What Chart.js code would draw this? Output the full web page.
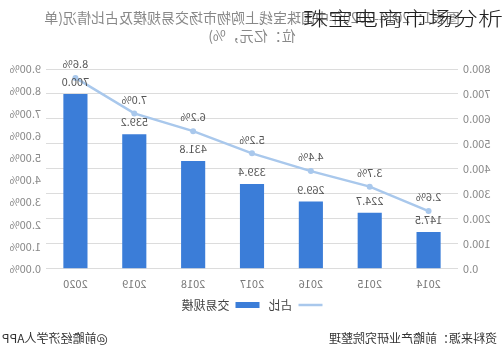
<!DOCTYPE html>
<html>
<head>
<meta charset="utf-8">
<script src="https://cdn.jsdelivr.net/npm/chart.js@4"></script>
<style>
 html,body{margin:0;padding:0;background:#fff;}
 body{width:504px;height:362px;overflow:hidden;position:relative;font-family:"Noto Sans CJK SC",sans-serif;}
 #mirror{position:absolute;left:0;top:0;width:504px;height:362px;transform:scaleX(-1);}
 #title{position:absolute;left:0;top:8px;width:504px;text-align:center;font-size:14px;line-height:18px;color:#888;}
 #chart{position:absolute;left:0;top:0;}
 #source{position:absolute;left:7px;top:329px;font-size:12px;color:#333;}
 #brand{position:absolute;right:2px;top:329px;font-size:12px;color:#333;}
 #overlay{position:absolute;right:1px;top:8px;font-size:25px;line-height:25px;font-weight:300;color:#222;transform:scaleY(0.78);transform-origin:top right;}
</style>
</head>
<body>
<div id="mirror">
 <div id="title">图表1：2014-2020年中国珠宝线上购物市场交易规模及占比情况(单<br>位：亿元，%)</div>
 <canvas id="chart" width="504" height="362"></canvas>
 <div id="source">资料来源：前瞻产业研究院整理</div>
 <div id="brand">@前瞻经济学人APP</div>
</div>
<div id="overlay">珠宝电商市场分析</div>
<script>
const years = ["2014","2015","2016","2017","2018","2019","2020"]
const tradeScale = [147.5,224.7,269.9,339.4,431.8,539.2,700.0]
const sharePct = [2.6,3.7,4.4,5.2,6.2,7.0,8.6]

const barColor = "#3b7dd8"
const lineColor = "#a9c8ec"

const valueLabels = {
 id:"valueLabels",
 afterDatasetsDraw(chart){
  const ctx = chart.ctx
  ctx.save()
  ctx.font = '11px "Noto Sans CJK SC", sans-serif'
  ctx.fillStyle = "#555"
  ctx.textAlign = "center"
  ctx.textBaseline = "middle"
  chart.getDatasetMeta(0).data.forEach((bar,i)=>{
   ctx.fillText(tradeScale[i].toFixed(1), bar.x, bar.y - 12)
  })
  chart.getDatasetMeta(1).data.forEach((pt,i)=>{
   ctx.fillText(sharePct[i].toFixed(1) + "%", pt.x, pt.y - 14)
  })
  ctx.restore()
 }
}

const tickFont = {family:'"Noto Sans CJK SC", sans-serif', size:11}

new Chart(document.getElementById("chart"),{
 type:"bar",
 data:{
  labels:years,
  datasets:[{
   label:"交易规模",
   data:tradeScale,
   backgroundColor:barColor,
   barPercentage:0.41,
   categoryPercentage:1,
   yAxisID:"y",
   order:2
  },{
   type:"line",
   label:"占比",
   data:sharePct,
   borderColor:lineColor,
   backgroundColor:lineColor,
   borderWidth:2.5,
   pointRadius:3,
   pointBackgroundColor:lineColor,
   pointBorderWidth:0,
   tension:0,
   yAxisID:"y1",
   order:1
  }]
 },
 options:{
  responsive:false,
  animation:false,
  layout:{padding:{top:69,bottom:41,left:0,right:0}},
  scales:{
   x:{
    grid:{display:false},
    border:{display:false},
    ticks:{color:"#777",font:tickFont,padding:0}
   },
   y:{
    position:"left",
    min:0,max:800,
    afterFit:s=>{s.width = 46},
    border:{display:false},
    grid:{color:"#dcdcdc",drawTicks:false},
    ticks:{stepSize:100,color:"#888",font:tickFont,padding:5,callback:v=>v.toFixed(1)}
   },
   y1:{
    position:"right",
    min:0,max:9,
    afterFit:s=>{s.width = 46},
    border:{display:false},
    grid:{display:false,drawTicks:false},
    ticks:{stepSize:1,color:"#888",font:tickFont,padding:5,callback:v=>v.toFixed(2) + "%"}
   }
  },
  plugins:{
   legend:{
    position:"bottom",
    labels:{
     usePointStyle:true,
     pointStyleWidth:24,
     boxHeight:6,
     color:"#444",
     font:{family:'"Noto Sans CJK SC", sans-serif', size:12},
     padding:9,
     generateLabels(chart){
      const items = Chart.defaults.plugins.legend.labels.generateLabels(chart)
      items.forEach(it=>{
       it.pointStyle = it.datasetIndex === 0 ? "rect" : "line"
       if(it.datasetIndex === 1){ it.lineWidth = 2.5; it.strokeStyle = lineColor }
      })
      return items
     }
    }
   },
   tooltip:{enabled:false}
  }
 },
 plugins:[valueLabels]
})
</script>
</body>
</html>
